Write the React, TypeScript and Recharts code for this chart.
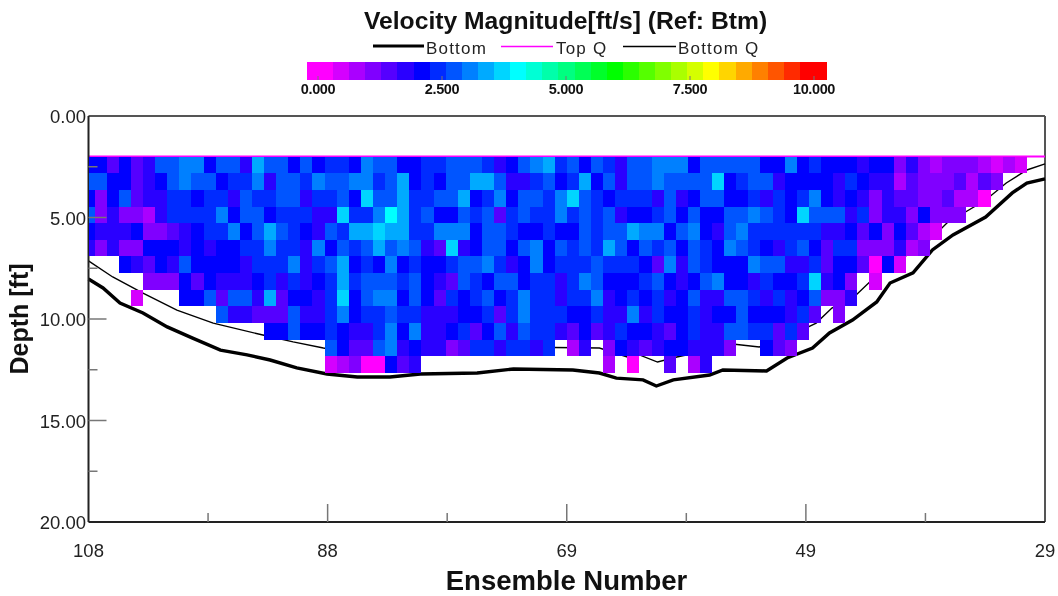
import React from "react";
import { ComposedChart, XAxis, YAxis, Scatter, Line, ReferenceLine } from "recharts";

const N = null;
const FIRST_ENSEMBLE = 108;
const TOP_DEPTH = 2;
const ROW_STEP = 0.82;

const row0 = [2.1,2.1,1.4,2.1,1.3,1.7,2.5,2.5,2.9,2.9,2.1,2.5,2.5,1.7,3.3,2.5, 2.5,2.1,2.5,2.1,2.4,2.4,2.1,3.1,2.8,2.8,2.1,2.1,2.4,2.4,2.8,2.5, 2.8,2.4,1.5,2.1,2.5,2.9,3.2,2.4,2.8,2.1,2.8,2.4,1.5,2.8,2.5,3.1, 3.1,2.9,2.1,2.5,2.5,2.5,2.8,2.8,2.1,2.1,2.9,2.1,2.4,2.1,2.1,2.1, 1.8,2.1,1.9,1.0,1.8,0.9,0.6,0.9,0.9,0.9,0.6,0.4,0.6,0.3];
const row1 = [2.5,2.5,2.1,2.1,1.3,1.7,2.1,2.5,2.9,2.5,2.5,2.1,2.4,2.4,2.9,1.7, 2.8,2.8,2.4,2.9,2.5,2.5,2.9,3.1,2.3,2.8,3.2,2.1,2.4,2.1,2.8,2.8, 3.2,3.2,2.8,1.6,1.6,2.4,2.8,2.1,2.4,3.2,2.1,2.8,1.5,2.8,2.5,3.1, 2.7,2.8,2.5,2.5,3.6,2.1,2.4,2.8,2.8,1.6,2.1,2.1,2.1,2.1,1.7,2.4, 2.0,1.8,1.8,0.6,1.4,0.9,0.9,0.9,1.3,0.7,1.4,1.1];
const row2 = [2.1,1.1,2.1,2.5,1.3,1.7,1.7,2.4,2.4,2.1,2.4,2.4,1.6,2.8,2.4,2.4, 2.8,2.8,1.6,2.4,2.4,2.8,2.1,3.5,2.8,2.8,3.2,2.3,2.3,2.8,2.8,3.2, 2.1,2.4,3.1,2.1,2.7,2.7,2.4,3.1,3.6,2.7,2.4,2.1,2.4,2.4,2.4,1.6, 2.5,1.7,2.1,2.8,2.8,2.1,2.1,2.4,1.6,2.4,2.1,2.4,2.9,2.1,1.7,2.1, 1.8,1.0,1.8,1.3,1.3,0.9,0.9,1.3,0.7,0.6,0.1];
const row3 = [2.5,1.1,1.7,1.1,1.1,0.6,1.7,2.3,2.4,2.4,2.4,2.9,2.1,2.8,2.8,2.1, 2.4,2.4,2.4,1.7,1.7,3.5,2.4,2.4,3.1,4.1,3.4,2.4,2.8,2.1,2.1,2.8, 2.4,2.8,1.4,2.4,2.8,2.4,2.4,2.9,2.4,2.8,2.4,2.8,1.6,2.1,2.1,2.4, 2.6,2.1,2.8,2.1,2.1,2.7,2.7,3.0,2.8,2.4,2.1,3.5,2.6,2.6,2.6,1.7, 2.2,1.0,1.7,1.5,1.0,2.1,1.0,1.0,1.0];
const row4 = [2.1,1.8,1.8,1.8,2.1,1.1,1.1,1.3,1.7,2.1,2.4,2.4,2.9,2.1,2.5,3.4, 2.6,2.4,2.1,1.8,2.8,2.4,3.2,3.2,3.6,3.2,3.2,2.4,2.4,2.9,2.9,2.9, 2.1,2.8,2.8,2.4,2.1,2.1,2.4,2.1,2.1,2.8,2.4,2.8,2.5,3.2,2.9,2.9, 2.1,2.8,3.1,2.1,1.7,2.7,3.1,2.4,2.4,2.4,2.4,2.4,2.4,1.7,1.7,2.1, 1.3,2.1,1.0,1.9,1.4,0.7,0.4];
const row5 = [1.8,1.1,1.8,1.1,1.1,2.1,2.1,2.1,1.7,2.1,1.6,2.1,2.1,2.4,2.4,3.0, 2.4,2.4,1.7,3.1,2.1,2.8,2.4,2.7,3.2,2.8,3.1,2.8,1.7,1.3,3.6,1.6, 2.1,2.8,2.8,2.1,2.8,3.1,2.1,2.8,2.4,2.8,2.4,3.2,2.8,2.1,2.8,2.4, 2.6,2.1,2.8,2.4,2.1,3.1,2.8,2.4,2.1,1.7,2.4,2.8,2.1,1.4,2.4,2.4, 1.0,1.0,1.0,1.5,0.8,1.0];
const row6 = [N,N,N,2.1,1.8,1.3,2.1,1.7,2.5,2.1,2.1,2.1,2.1,1.6,2.4,2.4, 2.2,3.1,1.6,2.4,2.8,3.2,2.1,2.3,2.0,3.1,2.1,2.3,2.1,2.1,2.4,2.8, 2.5,3.1,2.4,1.6,2.1,3.1,2.1,2.4,2.4,2.4,2.8,2.4,2.4,2.4,2.1,1.3, 3.0,1.7,2.8,2.4,2.1,2.1,2.1,3.0,2.7,2.7,1.8,1.8,2.4,1.4,2.1,2.1, 1.4,0.1,2.1,0.3];
const row7 = [N,N,N,N,N,1.0,1.0,1.0,2.1,1.4,2.1,1.7,1.7,1.6,2.1,2.4, 1.6,2.4,1.6,2.1,2.4,3.2,2.3,2.7,2.7,2.7,2.4,2.8,2.1,1.7,1.4,2.7, 2.4,2.1,2.7,2.7,2.1,2.4,2.4,1.7,2.4,3.0,2.7,2.1,2.1,2.1,2.4,2.7, 2.1,1.7,2.1,2.8,3.0,2.1,2.1,1.7,2.4,2.1,2.1,2.4,3.6,1.6,2.1,0.9, N,0.3];
const row8 = [N,N,N,N,0.3,N,N,N,2.1,2.1,2.5,1.3,2.8,2.5,1.7,3.2, 1.2,2.1,2.1,1.6,2.4,3.6,2.1,2.7,3.0,3.0,2.1,2.8,2.1,1.4,2.4,2.1, 2.3,2.8,2.1,2.4,3.1,2.4,2.4,1.7,2.4,2.4,3.1,1.7,2.1,2.4,2.1,2.4, 1.7,2.1,2.8,1.8,1.8,2.7,2.7,2.4,1.5,2.4,1.8,2.1,2.5,1.0,1.0,1.7];
const row9 = [N,N,N,N,N,N,N,N,N,N,N,2.5,1.7,1.7,1.3,1.3, 1.3,2.8,1.7,1.7,2.4,2.9,2.1,2.4,2.4,2.8,2.3,2.3,1.7,1.7,1.7,2.1, 2.1,2.4,1.4,2.4,3.0,2.4,2.4,2.4,2.1,2.1,2.4,1.8,1.8,3.0,1.7,2.4, 2.1,2.1,2.4,1.7,2.1,2.1,2.7,2.1,2.1,2.1,1.7,2.3,1.2,N,1.0];
const row10 = [N,N,N,N,N,N,N,N,N,N,N,N,N,N,N,1.9, 2.1,2.8,2.1,2.1,2.4,2.1,1.6,1.6,2.4,3.1,2.1,3.1,1.7,1.7,2.1,2.4, 1.4,2.1,2.8,1.7,2.7,2.4,2.4,1.7,1.4,2.1,1.4,1.8,2.4,2.1,2.1,1.7, 1.3,2.1,2.4,1.6,1.6,2.7,2.7,2.4,2.4,1.3,2.2,1.2];
const row11 = [N,N,N,N,N,N,N,N,N,N,N,N,N,N,N,N, N,N,N,N,2.5,1.9,1.3,1.3,2.8,3.1,1.7,2.1,1.7,1.7,1.1,1.3, 2.4,2.4,1.7,2.4,2.4,1.6,2.4,N,0.6,1.8,N,1.0,2.1,1.7,1.4,1.8, 2.1,2.1,1.5,1.7,1.7,1.0,N,N,2.1,1.3,0.9];
const row12 = [N,N,N,N,N,N,N,N,N,N,N,N,N,N,N,N, N,N,N,N,0.3,0.7,1.1,0.1,0.1,1.9,1.4,1.8,N,N,N,N, N,N,N,N,N,N,N,N,N,N,N,0.7,N,0.1,N,N, 1.4,N,0.7,1.8];
const velocityRows = [row0,row1,row2,row3,row4,row5,row6,row7,row8,row9,row10,row11,row12];

const bottomEnsembles = [108,106.8,105.4,103.5,101.5,99.4,97.1,94.9,93,90.8,88.3,85.8,83.1,80.6,75.9,72.9,68,65.8,64.4,62.2,61.1,59.7,56.7,55.6,52,50.3,48.2,46.8,44.9,42.9,41.8,39.9,38.3,36.6,33.9,31.7,30.5,29];
const bottomDepths = [8.03,8.47,9.21,9.7,10.39,10.94,11.53,11.77,12.02,12.41,12.71,12.86,12.86,12.71,12.66,12.46,12.51,12.66,12.91,13,13.3,13,12.76,12.51,12.56,11.92,11.43,10.69,10.05,9.16,8.23,7.73,6.6,5.86,4.98,3.79,3.3,3.1];
const bottomQEnsembles = [108,106,103.5,100.7,97.7,93.6,91.1,88.6,86.4,81.5,79.5,76.5,73.4,65.8,63.5,62.5,61,59.4,57.5,54.8,52.6,50.3,47.9,46.6,44.6,42.7,41.6,39.1,37.1,33.9,32.2,30.5,29];
const bottomQDepths = [7.14,7.93,8.72,9.56,10.2,10.79,11.13,11.43,11.63,11.63,11.53,11.43,11.38,11.43,11.87,11.77,12.12,11.87,11.63,11.23,11.38,10.89,10.2,9.46,8.82,7.73,7.24,6.45,5.27,4.14,3.3,2.66,2.36];
const topQEnsembles = [108,29];
const topQDepths = [2,2];

const xTicks = [108,98.125,88.25,78.375,68.5,58.625,48.75,38.875,29];
const xMajor = [108,88.25,68.5,48.75,29];
const yTicks = [0,2.5,5,7.5,10,12.5,15,17.5,20];
const yMajor = [0,5,10,15,20];
const scaleLabels = ["0.000","2.500","5.000","7.500","10.000"];
const scaleValues = [0,2.5,5,7.5,10];

const W = 1058, H = 596, PL = 88.5, PT = 116, PR = 1045, PB = 522;
const CELL_W = (PR - PL) / 79;
const CELL_H = ROW_STEP * (PB - PT) / 20;
const FONT = "'Liberation Sans', Arial, sans-serif";

const bandColor = (band: number) => {
  const seg = Math.min(4, Math.floor(band / 6));
  const t = (band - seg * 6) / 6;
  const up = Math.round(255 * t), down = Math.round(255 * (1 - t));
  const rgb = [[down,0,255],[0,up,255],[0,255,down],[up,255,0],[255,down,0]][seg];
  return `rgb(${rgb[0]},${rgb[1]},${rgb[2]})`;
};
const valueColor = (v: number) => bandColor(Math.max(0, Math.min(30, Math.round(v * 3))));

const cells = velocityRows.flatMap((vals, r) =>
  vals.flatMap((v, k) => (v === null ? [] : [{ e: FIRST_ENSEMBLE - k, d: TOP_DEPTH + (r + 0.5) * ROW_STEP, v }]))
);
const zip = (es: number[], ds: number[]) => es.map((e, i) => ({ e, d: ds[i] }));

const CellShape = (p: any) => {
  const x0 = Math.max(Math.round(PL), Math.round(p.cx - CELL_W / 2));
  const x1 = Math.round(p.cx + CELL_W / 2);
  const y0 = Math.round(p.cy - CELL_H / 2);
  const y1 = Math.round(p.cy + CELL_H / 2);
  return <rect x={x0} y={y0} width={x1 - x0} height={y1 - y0} fill={valueColor(p.payload.v)} shapeRendering="crispEdges" />;
};

const XTick = (p: any) => {
  const v = p.payload.value;
  const major = xMajor.includes(v);
  const edge = v === 108 || v === 29;
  return (
    <g>
      {!edge && <line x1={p.x} x2={p.x} y1={PB} y2={PB - (major ? 18 : 9)} stroke="#777" strokeWidth={1.5} />}
      {major && <text x={p.x} y={PB + 35} textAnchor="middle" fontSize={18.5} fontFamily={FONT} fill="#222">{Math.round(v)}</text>}
    </g>
  );
};
const YTick = (p: any) => {
  const v = p.payload.value;
  const major = yMajor.includes(v);
  const edge = v === 0 || v === 20;
  return (
    <g>
      {!edge && <line x1={PL} x2={PL + (major ? 18 : 9)} y1={p.y} y2={p.y} stroke="#777" strokeWidth={1.5} />}
      {major && <text x={86} y={p.y + 7} textAnchor="end" fontSize={18.5} fontFamily={FONT} fill="#222">{v.toFixed(2)}</text>}
    </g>
  );
};

const XTitle = () => (
  <text x={566.5} y={590} textAnchor="middle" fontSize={27.5} fontWeight="bold" fontFamily={FONT} fill="#111">Ensemble Number</text>
);
const YTitle = () => (
  <text x={28} y={319} transform="rotate(-90 28 319)" textAnchor="middle" fontSize={25} fontWeight="bold" fontFamily={FONT} fill="#111">Depth [ft]</text>
);

const ColorScale = () => {
  const bands = Array.from({ length: 31 }, (_, i) => i);
  const tickX = (v: number) => 318 + v * 49.6;
  const bandX = (i: number) => (i === 0 ? 307 : 333 + (i - 1) * 16.1);
  const bandW = (i: number) => (i === 0 ? 26 : i === 30 ? 27.5 : 16.6);
  return (
    <g fontFamily={FONT}>
      <text x={565.5} y={29} textAnchor="middle" fontSize={24.7} fontWeight="bold" fill="#111">Velocity Magnitude[ft/s] (Ref: Btm)</text>
      <line x1={373} x2={424} y1={46} y2={46} stroke="#000" strokeWidth={3} />
      <text x={426} y={54} fontSize={17} letterSpacing={1.2} fill="#222">Bottom</text>
      <line x1={501} x2={553} y1={46.5} y2={46.5} stroke="#ff00ff" strokeWidth={1.5} />
      <text x={556} y={54} fontSize={17} letterSpacing={1.2} fill="#222">Top Q</text>
      <line x1={623} x2={676} y1={46.5} y2={46.5} stroke="#000" strokeWidth={1.5} />
      <text x={678} y={54} fontSize={17} letterSpacing={1.2} fill="#222">Bottom Q</text>
      {bands.map((i) => (
        <rect key={i} x={bandX(i)} y={62} width={bandW(i)} height={18} fill={bandColor(i)} shapeRendering="crispEdges" />
      ))}
      {scaleValues.map((v, i) => (
        <g key={v}>
          <line x1={tickX(v)} x2={tickX(v)} y1={76} y2={80} stroke="#777" />
          <text x={tickX(v)} y={94} textAnchor="middle" fontSize={14.5} fontWeight="bold" letterSpacing={-0.4} fill="#111">{scaleLabels[i]}</text>
        </g>
      ))}
    </g>
  );
};

export default function App() {
  return (
    <div style={{ position: "absolute", left: 0, top: 0, width: W, height: H, background: "#fff", filter: "blur(0.55px)" }}>
      <ComposedChart width={W} height={H} margin={{ top: PT, left: PL - 60, right: W - PR, bottom: 0 }}>
        <XAxis
          dataKey="e" type="number" reversed domain={[29, 108]} ticks={xTicks} interval={0}
          height={H - PB} tickSize={0} tickLine={false} tick={<XTick />} stroke="#222" strokeWidth={2}
        />
        <YAxis
          dataKey="d" type="number" reversed domain={[0, 20]} ticks={yTicks} interval={0}
          width={60} tickSize={0} tickLine={false} tick={<YTick />} stroke="#222" strokeWidth={2}
        />
        <ReferenceLine y={0} stroke="#555" strokeWidth={2} />
        <ReferenceLine x={29} stroke="#555" strokeWidth={2} />
        <Scatter data={cells} shape={<CellShape />} isAnimationActive={false} />
        <Line data={zip(topQEnsembles, topQDepths)} dataKey="d" stroke="#ff00ff" strokeWidth={2} dot={false} isAnimationActive={false} />
        <Line data={zip(bottomQEnsembles, bottomQDepths)} dataKey="d" stroke="#000" strokeWidth={1.4} dot={false} isAnimationActive={false} />
        <Line data={zip(bottomEnsembles, bottomDepths)} dataKey="d" stroke="#000" strokeWidth={3.4} dot={false} isAnimationActive={false} />
        <XTitle />
        <YTitle />
        <ColorScale />
      </ComposedChart>
    </div>
  );
}
